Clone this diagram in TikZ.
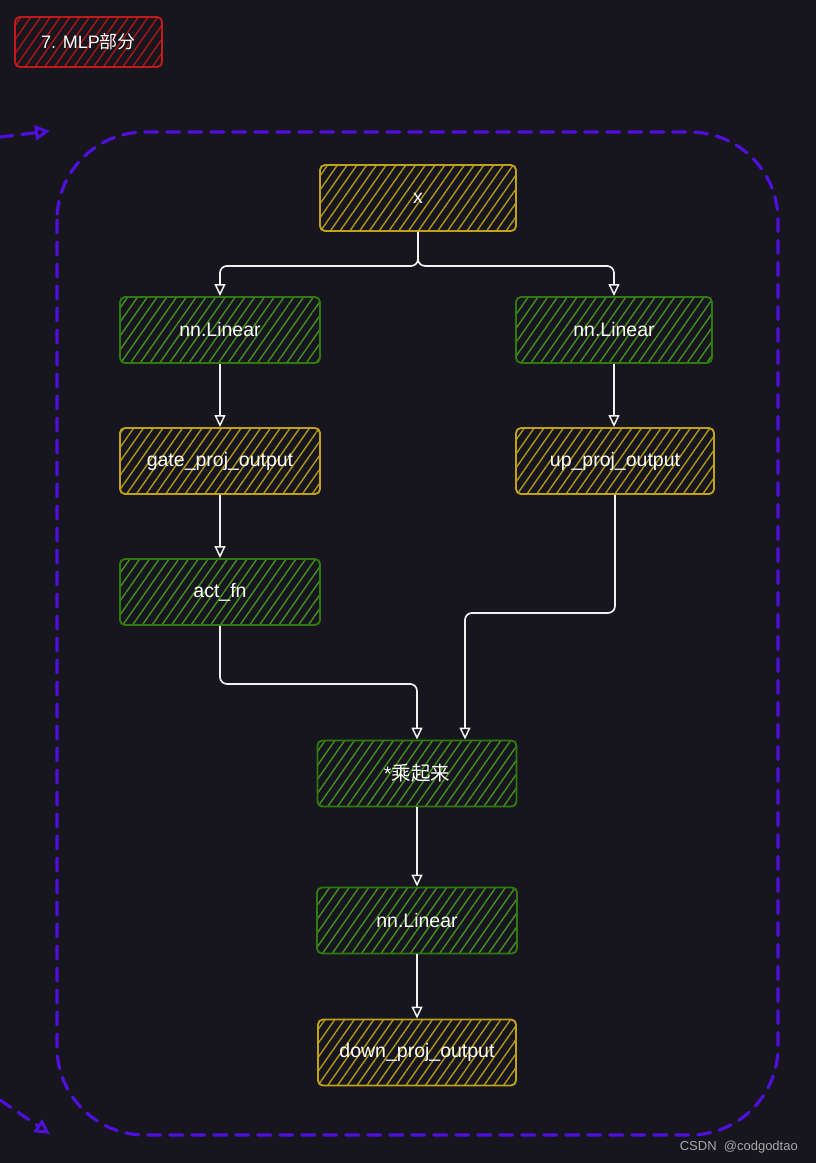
\documentclass[tikz,border=0pt]{standalone}
\usepackage{fontspec}
\setmainfont{Liberation Sans}
\newfontfamily\cjk{Noto Sans CJK SC}
\usetikzlibrary{arrows.meta,patterns.meta,calc}
\definecolor{bgc}{HTML}{17151D}
\definecolor{yelB}{HTML}{BFA21A}
\definecolor{yelH}{HTML}{B09714}
\definecolor{grnB}{HTML}{2F7A0D}
\definecolor{grnH}{HTML}{43921C}
\definecolor{redB}{HTML}{C01A1A}
\definecolor{redH}{HTML}{AC1616}
\definecolor{purp}{HTML}{4F10DC}
\definecolor{wm}{HTML}{A8A8A8}
\tikzset{
  boxbase/.style={rounded corners=5pt, line width=1.9pt, minimum width=198pt, minimum height=66pt,
    text=white, font=\fontsize{19.5}{22}\selectfont, inner sep=0pt},
  ybox/.style={boxbase, draw=yelB, pattern={Lines[angle=55,distance=8pt,line width=1.4pt]}, pattern color=yelH},
  gbox/.style={boxbase, draw=grnB, pattern={Lines[angle=55,distance=8pt,line width=1.4pt]}, pattern color=grnH},
  rbox/.style={boxbase, draw=redB, pattern={Lines[angle=55,distance=8pt,line width=1.4pt]}, pattern color=redH,
    minimum width=147pt, minimum height=50pt, font=\fontsize{18}{20}\selectfont},
  conn/.style={draw=white!94!black, line width=1.7pt, rounded corners=7pt,
    -{Triangle[open,length=12pt,width=11pt,line width=1.5pt]}},
  frame/.style={draw=purp, line width=3.2pt, dash pattern=on 13pt off 9pt, line cap=round},
  framearrow/.style={frame, -{Triangle[open,length=15pt,width=15pt,line width=3pt]}}
}
\begin{document}
\begin{tikzpicture}[x=1pt,y=-1pt]
\fill[bgc] (0,0) rectangle (816,1163);
\useasboundingbox (0,0) rectangle (816,1163);

% frame
\draw[frame, rounded corners=88pt] (57,132) rectangle (778,1135);
\coordinate (fa1s) at (0,137);
\coordinate (fa1e) at (50,131);
\coordinate (fa2s) at (0,1100);
\coordinate (fa2e) at (50,1134);
\draw[framearrow] (fa1s) -- (fa1e);
\draw[framearrow] (fa2s) -- (fa2e);

% title
\node[rbox] (title) at (88.5,42) {7. MLP{\cjk 部分}};

% nodes
\node[ybox, minimum width=196pt] (x) at (418,198) {x};
\node[gbox, minimum width=200pt] (lin1) at (220,330) {nn.Linear};
\node[gbox, minimum width=196pt] (lin2) at (614,330) {nn.Linear};
\node[ybox, minimum width=200pt] (gate) at (220,461) {gate\_proj\_output};
\node[ybox, minimum width=198pt] (up) at (615,461) {up\_proj\_output};
\node[gbox, minimum width=200pt] (act) at (220,592) {act\_fn};
\node[gbox, minimum width=199pt] (mul) at (417,773.5) {*{\cjk 乘起来}};
\node[gbox, minimum width=200pt] (lin3) at (417,920.5) {nn.Linear};
\node[ybox, minimum width=198pt] (down) at (417,1052.5) {down\_proj\_output};

% connectors
\draw[conn] (x.south) -- ($(x.south)+(0,34)$) -| (lin1.north);
\draw[conn] (x.south) -- ($(x.south)+(0,34)$) -| (lin2.north);
\draw[conn] (lin1) -- (gate);
\draw[conn] (lin2.south) -- (lin2.south |- up.north);
\draw[conn] (gate) -- (act);
\draw[conn] (act.south) -- ($(act.south)+(0,58)$) -| (mul.north);
\draw[conn] (up.south) -- ($(up.south)+(0,118)$) -| ($(mul.north)+(48,0)$);
\draw[conn] (mul.south) -- (mul.south |- lin3.north);
\draw[conn] (lin3.south) -- (lin3.south |- down.north);

% watermark
\node[text=wm, font=\fontsize{13}{15}\selectfont, anchor=east, inner sep=0pt] (wmk) at (798,1147) {CSDN\ \ @codgodtao};
\end{tikzpicture}
\end{document}
